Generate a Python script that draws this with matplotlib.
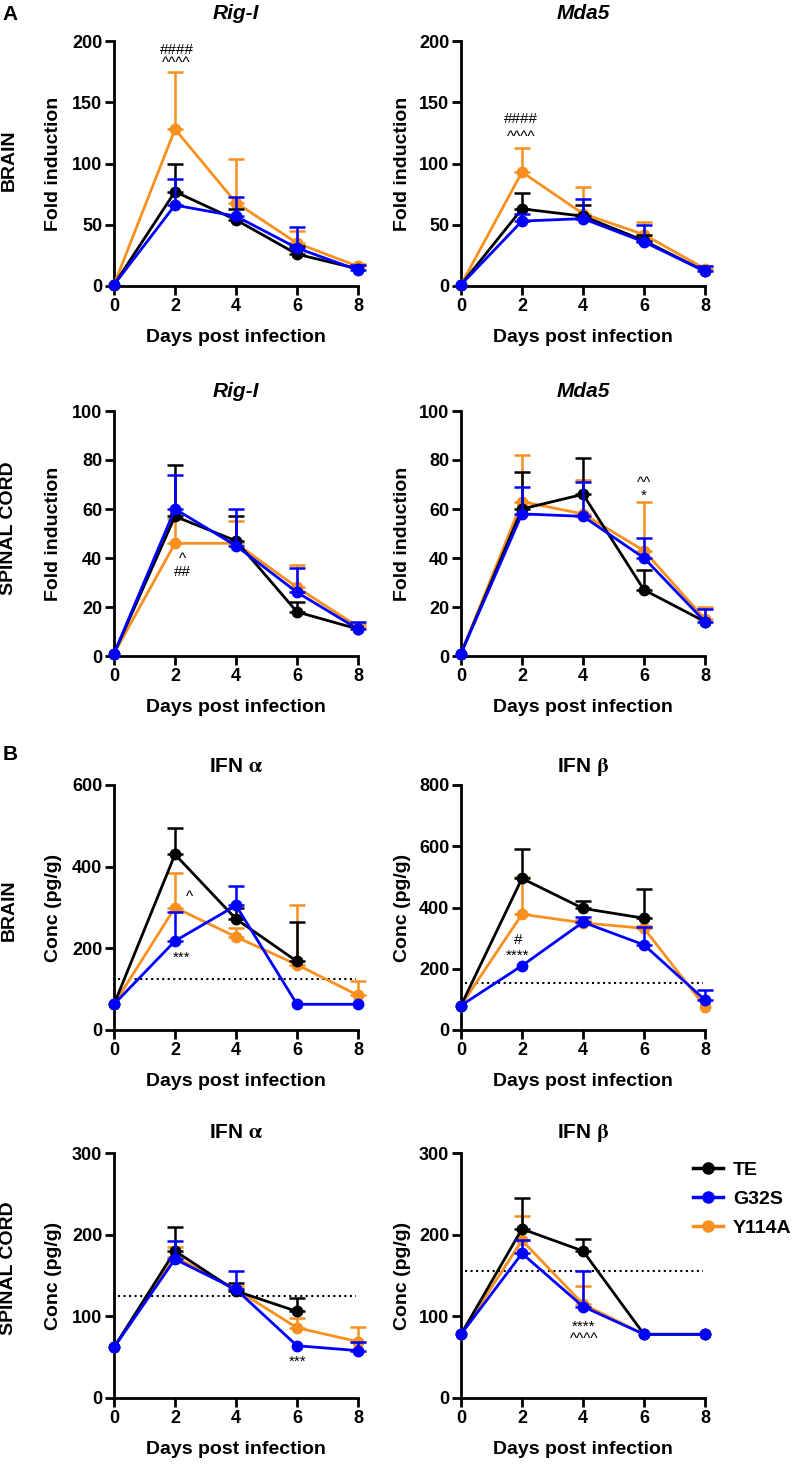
import numpy as np
import matplotlib
matplotlib.use("Agg")
import matplotlib.pyplot as plt
from matplotlib.lines import Line2D

plt.rcParams['font.family'] = ['Liberation Sans', 'DejaVu Sans']
plt.rcParams['font.weight'] = 'bold'
plt.rcParams['axes.labelweight'] = 'bold'
plt.rcParams['mathtext.fontset'] = 'stix'

nan = np.nan
days = [0, 2, 4, 6, 8]
names = ["TE", "G32S", "Y114A"]
colors = {"TE": "#000000", "G32S": "#0000ff", "Y114A": "#f7901e"}

# A - brain, Rig-I (mean, top of error bar)
rigi_brain_te = [1, 77, 54, 26, 14]
rigi_brain_te_top = [nan, 100, 63, 33, nan]
rigi_brain_g32s = [1, 66, 57, 31, 13]
rigi_brain_g32s_top = [nan, 87, 73, 48, 17]
rigi_brain_y114a = [1, 128, 68, 35, 16]
rigi_brain_y114a_top = [nan, 175, 104, 45, 18]

# A - brain, Mda5
mda5_brain_te = [1, 63, 57, 37, 12]
mda5_brain_te_top = [nan, 76, 66, 42, nan]
mda5_brain_g32s = [1, 53, 55, 36, 12]
mda5_brain_g32s_top = [nan, 59, 71, 50, 16]
mda5_brain_y114a = [1, 93, 59, 42, 14]
mda5_brain_y114a_top = [nan, 113, 81, 52, 16]

# A - spinal cord, Rig-I
rigi_sc_te = [1, 57, 47, 18, 11]
rigi_sc_te_top = [nan, 78, 57, 22, nan]
rigi_sc_g32s = [1, 60, 45, 26, 11]
rigi_sc_g32s_top = [nan, 74, 60, 36, 14]
rigi_sc_y114a = [1, 46, 46, 28, 12]
rigi_sc_y114a_top = [nan, 56, 55, 37, 13]

# A - spinal cord, Mda5
mda5_sc_te = [1, 60, 66, 27, 14]
mda5_sc_te_top = [nan, 75, 81, 35, nan]
mda5_sc_g32s = [1, 58, 57, 40, 14]
mda5_sc_g32s_top = [nan, 69, 71, 48, 19]
mda5_sc_y114a = [1, 63, 58, 43, 15]
mda5_sc_y114a_top = [nan, 82, 72, 63, 20]

# B - brain, IFN alpha
ifna_brain_te = [63, 430, 272, 168, nan]
ifna_brain_te_top = [nan, 495, 300, 265, nan]
ifna_brain_g32s = [63, 218, 305, 63, 63]
ifna_brain_g32s_top = [nan, 290, 352, nan, nan]
ifna_brain_y114a = [63, 300, 228, 160, 85]
ifna_brain_y114a_top = [nan, 385, 250, 305, 120]

# B - brain, IFN beta
ifnb_brain_te = [80, 495, 397, 365, nan]
ifnb_brain_te_top = [nan, 590, 422, 460, nan]
ifnb_brain_g32s = [80, 210, 352, 278, 98]
ifnb_brain_g32s_top = [nan, nan, 370, 335, 132]
ifnb_brain_y114a = [80, 378, 350, 332, 76]
ifnb_brain_y114a_top = [nan, 500, 360, 338, nan]

# B - spinal cord, IFN alpha
ifna_sc_te = [62, 180, 131, 106, nan]
ifna_sc_te_top = [nan, 209, 141, 122, nan]
ifna_sc_g32s = [62, 170, 133, 64, 58]
ifna_sc_g32s_top = [nan, 192, 156, nan, 68]
ifna_sc_y114a = [62, 173, 133, 86, 69]
ifna_sc_y114a_top = [nan, 185, 137, 98, 87]

# B - spinal cord, IFN beta
ifnb_sc_te = [78, 207, 180, 78, 78]
ifnb_sc_te_top = [nan, 245, 195, nan, nan]
ifnb_sc_g32s = [78, 177, 112, 78, 78]
ifnb_sc_g32s_top = [nan, 193, 155, nan, nan]
ifnb_sc_y114a = [78, 193, 115, 78, 78]
ifnb_sc_y114a_top = [nan, 223, 137, nan, nan]

# detection limits (dotted lines)
lod_ifna = 125
lod_ifnb = 155

panels = [
    # (row, col, title, italic, ylabel, yticks, series, lod, significance notes)
    (0, 0, "Rig-I", True, "Fold induction", [0, 50, 100, 150, 200],
     {"TE": (rigi_brain_te, rigi_brain_te_top), "G32S": (rigi_brain_g32s, rigi_brain_g32s_top),
      "Y114A": (rigi_brain_y114a, rigi_brain_y114a_top)},
     None, [(2.05, 187, "####\n^^^^", 0.9)]),
    (0, 1, "Mda5", True, "Fold induction", [0, 50, 100, 150, 200],
     {"TE": (mda5_brain_te, mda5_brain_te_top), "G32S": (mda5_brain_g32s, mda5_brain_g32s_top),
      "Y114A": (mda5_brain_y114a, mda5_brain_y114a_top)},
     None, [(1.98, 129, "####\n^^^^", 1.3)]),
    (1, 0, "Rig-I", True, "Fold induction", [0, 20, 40, 60, 80, 100],
     {"TE": (rigi_sc_te, rigi_sc_te_top), "G32S": (rigi_sc_g32s, rigi_sc_g32s_top),
      "Y114A": (rigi_sc_y114a, rigi_sc_y114a_top)},
     None, [(2.23, 37, "^\n##", 0.9)]),
    (1, 1, "Mda5", True, "Fold induction", [0, 20, 40, 60, 80, 100],
     {"TE": (mda5_sc_te, mda5_sc_te_top), "G32S": (mda5_sc_g32s, mda5_sc_g32s_top),
      "Y114A": (mda5_sc_y114a, mda5_sc_y114a_top)},
     None, [(6.0, 68, "^^\n*", 0.85)]),
    (2, 0, r"IFN $\mathrm{\alpha}$", False, "Conc (pg/g)", [0, 200, 400, 600],
     {"TE": (ifna_brain_te, ifna_brain_te_top), "G32S": (ifna_brain_g32s, ifna_brain_g32s_top),
      "Y114A": (ifna_brain_y114a, ifna_brain_y114a_top)},
     lod_ifna, [(2.46, 325, "^", 1.0), (2.2, 178, "***", 1.0)]),
    (2, 1, r"IFN $\mathrm{\beta}$", False, "Conc (pg/g)", [0, 200, 400, 600, 800],
     {"TE": (ifnb_brain_te, ifnb_brain_te_top), "G32S": (ifnb_brain_g32s, ifnb_brain_g32s_top),
      "Y114A": (ifnb_brain_y114a, ifnb_brain_y114a_top)},
     lod_ifnb, [(1.86, 268, "#\n****", 1.2)]),
    (3, 0, r"IFN $\mathrm{\alpha}$", False, "Conc (pg/g)", [0, 100, 200, 300],
     {"TE": (ifna_sc_te, ifna_sc_te_top), "G32S": (ifna_sc_g32s, ifna_sc_g32s_top),
      "Y114A": (ifna_sc_y114a, ifna_sc_y114a_top)},
     lod_ifna, [(6.03, 44, "***", 1.0)]),
    (3, 1, r"IFN $\mathrm{\beta}$", False, "Conc (pg/g)", [0, 100, 200, 300],
     {"TE": (ifnb_sc_te, ifnb_sc_te_top), "G32S": (ifnb_sc_g32s, ifnb_sc_g32s_top),
      "Y114A": (ifnb_sc_y114a, ifnb_sc_y114a_top)},
     lod_ifnb, [(4.03, 80, "****\n^^^^", 0.85)]),
]

W, H = 800, 1464
fig = plt.figure(figsize=(W / 100, H / 100), dpi=100)

col_x = [114, 461]
row_bottom = [286, 656, 1030, 1398]
aw, ah = 244, 245
title_gap = [22, 14, 13, 15]

draw_order = ["Y114A", "TE", "G32S"]

for row, col, title, italic, ylabel, yticks, series, lod, notes in panels:
    ax = fig.add_axes([col_x[col] / W, 1 - row_bottom[row] / H, aw / W, ah / H])
    for i, name in enumerate(draw_order):
        mean, top = series[name]
        mean = np.array(mean, float)
        top = np.array(top, float)
        z = 3 + i
        has = ~np.isnan(top)
        if has.any():
            x = np.array(days)[has]
            up = top[has] - mean[has]
            ax.errorbar(x, mean[has], yerr=[np.zeros_like(up), up], fmt='none',
                        ecolor=colors[name], elinewidth=1.8, capsize=5.5, capthick=1.8,
                        zorder=z, clip_on=False)
        ax.plot(days, mean, '-o', color=colors[name], lw=2.0, ms=7.5,
                zorder=z + 0.5, clip_on=False)
    if lod is not None:
        ax.axhline(lod, xmin=0.015, xmax=0.99, color='black', ls=':', lw=1.5, zorder=2)
    for x, y, t, ls in notes:
        ax.text(x, y, t, ha='center', va='center', fontsize=11, fontweight='normal',
                linespacing=ls, zorder=10)

    ax.set_xlim(0, 8)
    ax.set_ylim(yticks[0], yticks[-1])
    ax.set_xticks(days)
    ax.set_yticks(yticks)
    for s in ['top', 'right']:
        ax.spines[s].set_visible(False)
    for s in ['left', 'bottom']:
        ax.spines[s].set_linewidth(2.0)
    ax.tick_params(direction='out', length=6.5, width=2.0, labelsize=13, pad=2)
    ax.set_xlabel("Days post infection", fontsize=14, fontweight='bold')
    ax.xaxis.set_label_coords(0.5, -0.175)
    ax.set_ylabel(ylabel, fontsize=14, fontweight='bold')
    ax.yaxis.set_label_coords(-0.215 if col == 0 else -0.205, 0.5)
    ax.text(0.5, 1 + title_gap[row] / ah, title, transform=ax.transAxes,
            ha='center', va='baseline', fontsize=15, fontweight='bold',
            fontstyle='italic' if italic else 'normal')

# row labels
for y, lab in [(160, "BRAIN"), (528, "SPINAL CORD"), (910, "BRAIN"), (1268, "SPINAL CORD")]:
    fig.text(9 / W, 1 - y / H, lab, rotation=90, ha='center', va='center',
             fontsize=14, fontweight='bold')

fig.text(10 / W, 1 - 15 / H, "A", ha='center', va='center', fontsize=15, fontweight='bold')
fig.text(10 / W, 1 - 755 / H, "B", ha='center', va='center', fontsize=15, fontweight='bold')

handles = [Line2D([], [], color=colors[n], marker='o', lw=2.5, ms=8) for n in names]
fig.legend(handles, names, loc='upper left', bbox_to_anchor=(693 / W, 1 - 1161 / H),
           frameon=False, handlelength=1.55, handletextpad=0.5,
           labelspacing=0.6, borderpad=0, borderaxespad=0,
           prop={'size': 14, 'weight': 'bold'})

fig.savefig("out.png", dpi=100)
